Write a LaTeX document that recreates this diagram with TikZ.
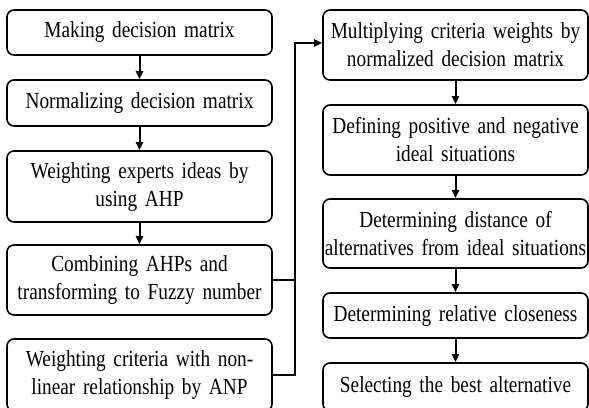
\documentclass[tikz,border=0pt]{standalone}
\usepackage{fontspec}
\setmainfont[FakeStretch=0.84,WordSpace=0.7]{Liberation Serif}
\usepackage{tikz}
\usetikzlibrary{positioning,arrows.meta}
\newcommand{\boxfont}{\fontsize{23}{28}\selectfont}

\begin{document}
\begin{tikzpicture}[x=1pt,y=-1pt,
  stepbox/.style={draw,line width=1.6pt,rounded corners=7pt,minimum width=265pt,
    text width=264pt,align=center,inner sep=0pt,font=\boxfont},
  link/.style={line width=2pt,-{Triangle[length=8pt,width=7pt]}},
  wire/.style={line width=2pt}]
  \useasboundingbox (0,0) rectangle (589,407);
  \clip (0,0) rectangle (589,407);
  % left column
  \node[stepbox,minimum height=45pt] (make) at (139.5,32.5) {Making decision matrix};
  \node[stepbox,minimum height=46pt] (norm) at (139.5,103) {Normalizing decision matrix};
  \node[stepbox,minimum height=71pt] (expert) at (139.5,186.5) {Weighting experts ideas by\\using AHP};
  \node[stepbox,minimum height=70pt] (fuzzy) at (139.5,280) {Combining AHPs and\\transforming to Fuzzy number};
  \node[stepbox,minimum height=72pt] (anp) at (139.5,375) {Weighting criteria with non-\\linear relationship by ANP};
  % right column
  \node[stepbox,minimum height=70pt] (mult) at (455.5,45) {Multiplying criteria weights by\\normalized decision matrix};
  \node[stepbox,minimum height=70pt] (ideal) at (455.5,140) {Defining positive and negative\\ideal situations};
  \node[stepbox,minimum height=69pt] (dist) at (455.5,233.5) {Determining distance of\\alternatives from ideal situations};
  \node[stepbox,minimum height=45pt] (close) at (455.5,315.5) {Determining relative closeness};
  \node[stepbox,minimum height=48pt] (best) at (455.5,387) {Selecting the best alternative};
  \coordinate (join) at (295,0);
  % connectors
  \draw[link] (make) -- (norm);
  \draw[link] (norm) -- (expert);
  \draw[link] (expert) -- (fuzzy);
  \draw[wire] (fuzzy.east) -- (fuzzy.east -| join);
  \draw[link] (anp.east) -- (anp.east -| join) |- ([yshift=2pt]mult.west);
  \draw[link] (mult) -- (ideal);
  \draw[link] (ideal) -- (dist);
  \draw[link] (dist) -- (close);
  \draw[link] (close) -- (best);
\end{tikzpicture}
\end{document}
